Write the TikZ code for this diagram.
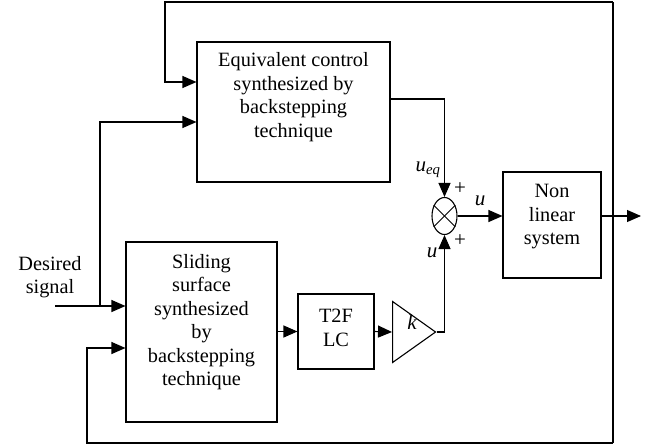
\documentclass[tikz,border=0pt]{standalone}
\usepackage{fontspec}
\setmainfont{Liberation Serif}
\usetikzlibrary{arrows.meta,shapes.geometric}

\begin{document}
\begin{tikzpicture}[x=1pt,y=-1pt,line width=1.1pt,
        blk/.style={draw,rectangle,inner sep=0pt},
        txt/.style={align=center,inner sep=0pt,font=\fontsize{20.3}{23.5}\selectfont},
        lab/.style={inner sep=0pt,font=\fontsize{21}{24}\selectfont\itshape},
        arr/.style={-{Triangle[length=14pt,width=12pt]}}]
        \useasboundingbox (0,0) rectangle (652,447);

        \node[blk,minimum width=193pt,minimum height=140pt](eq)at(293.5,112){};
        \node[txt](eqtxt)at(293.5,97){Equivalent control\\synthesized by\\backstepping\\technique};
        \node[blk,minimum width=151pt,minimum height=180pt](sl)at(201.5,332){};
        \node[txt](sltxt)at(201.5,322){Sliding\\surface\\synthesized\\by\\backstepping\\technique};
        \node[blk,minimum width=76pt,minimum height=75pt](t2f)at(336,331.5){};
        \node[txt](t2ftxt)at(336,328){T2F\\LC};
        \node[draw,isosceles triangle,isosceles triangle stretches,inner sep=0pt,
            minimum width=61pt,minimum height=43pt,anchor=west](gain)at(392,332){};
        \node[lab](klab)at(412,322){k};
        \node[draw,ellipse,minimum width=25pt,minimum height=37pt,inner sep=0pt](sum)at(444.5,216){};
        \draw[line width=0.9pt](sum.45)--(sum.225);
        \draw[line width=0.9pt](sum.135)--(sum.-45);
        \node[blk,minimum width=98pt,minimum height=106pt](nl)at(552,225){};
        \node[txt](nltxt)at(552,217){Non\\linear\\system};
        \node[txt](ds)at(50,277){Desired\\signal};

        \coordinate(fbtop)at(613,2);
        \coordinate(fbbot)at(613,443);
        \coordinate(c1)at(165,82);
        \coordinate(c2)at(87,348);
        \coordinate(split)at(100,306);
        \coordinate(dsin)at(55,306);
        \coordinate(out)at(641,216);

        \draw[arr](fbtop)-|(c1)--(eq.west|-c1);
        \draw(fbtop)--(fbbot);
        \draw[arr](fbbot)-|(c2)--(sl.west|-c2);
        \draw[arr](dsin)--(sl.west|-dsin);
        \draw[arr](split)|-(eq.west|-0,122);
        \draw[arr](eq.east|-0,99)-|(sum.north);
        \draw[arr](sl.east|-t2f.west)--(t2f.west);
        \draw[arr](t2f.east)--(gain.west);
        \draw[arr](gain.apex)-|(sum.south);
        \draw[arr](sum.east)--(nl.west|-sum.east);
        \draw[arr](nl.east|-sum.east)--(out);

        \node[lab](ueq)at(428,170){u\textsubscript{eq}};
        \node[lab](p1)at(460,189){\upshape +};
        \node[lab](p2)at(460,241){\upshape +};
        \node[lab](u1)at(432,253){u};
        \node[lab](u2)at(480,201){u};
    \end{tikzpicture}
\end{document}
